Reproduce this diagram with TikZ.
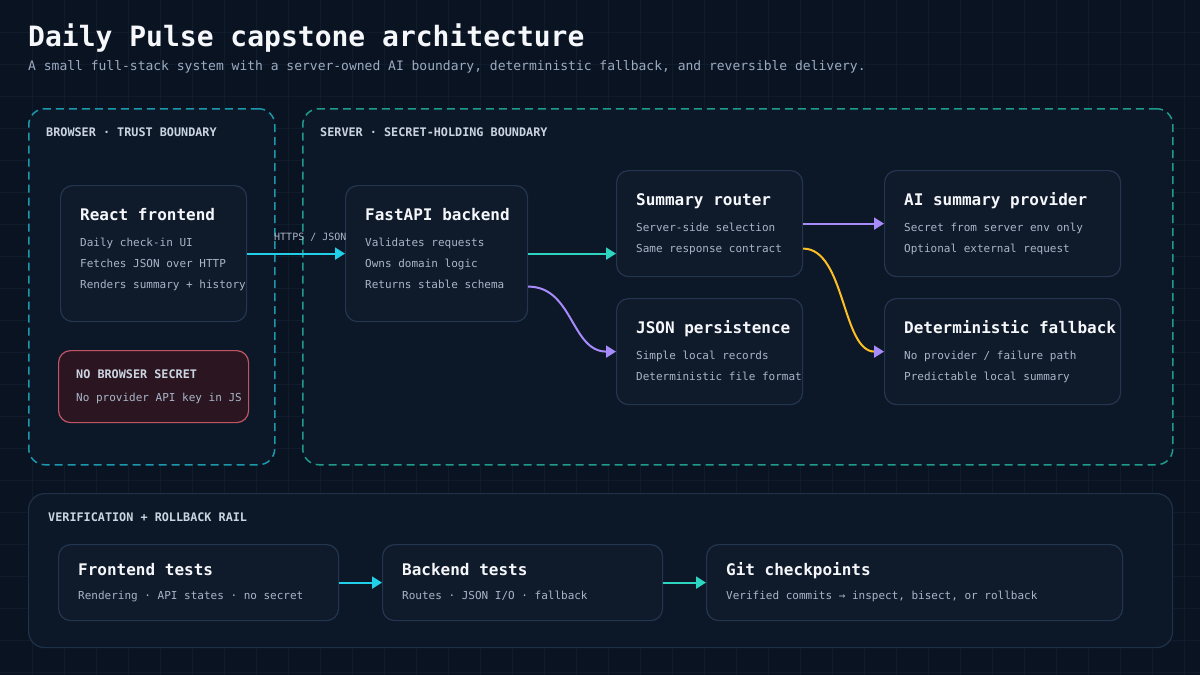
\documentclass[tikz,border=0pt]{standalone}
\usepackage{fontspec}
\setmainfont{DejaVu Sans Mono}
\usetikzlibrary{arrows.meta}
\definecolor{bgc}{HTML}{0A1321}
\definecolor{gridc}{HTML}{101B2B}
\definecolor{zonefill}{HTML}{0C1828}
\definecolor{cardfill}{HTML}{0F1A2B}
\definecolor{cardline}{HTML}{24364F}
\definecolor{railline}{HTML}{1F3149}
\definecolor{browserdash}{HTML}{1C98AC}
\definecolor{serverdash}{HTML}{1F9A8C}
\definecolor{warnfill}{HTML}{2A1520}
\definecolor{warnline}{HTML}{C05566}
\definecolor{titlec}{HTML}{F5F7FA}
\definecolor{bodyc}{HTML}{A9B6C8}
\definecolor{capc}{HTML}{CBD5E1}
\definecolor{subc}{HTML}{9AABC2}
\definecolor{cyanc}{HTML}{22CFE8}
\definecolor{tealc}{HTML}{2DD4BF}
\definecolor{purplec}{HTML}{A78BFA}
\definecolor{amberc}{HTML}{FBBF24}
\begin{document}
\begin{tikzpicture}[x=1pt,y=-1pt,
  card/.style={draw=cardline, fill=cardfill, line width=1.2pt, rounded corners=12pt, inner sep=0pt, anchor=north west},
  zone/.style={fill=zonefill, dash pattern=on 8pt off 5pt, line width=1.5pt, rounded corners=16pt, inner sep=0pt, anchor=north west},
  ttl/.style={anchor=base west, inner sep=0pt, text=titlec, font=\fontsize{16}{19}\selectfont\bfseries},
  body/.style={anchor=base west, inner sep=0pt, text=bodyc, font=\fontsize{11}{13}\selectfont},
  capt/.style={anchor=base west, inner sep=0pt, text=capc, font=\fontsize{11.8}{14}\selectfont\bfseries},
  link/.style={line width=2pt, -{Triangle[length=10pt,width=12pt]}},
]
\fill[bgc] (0,0) rectangle (1200,675);
\useasboundingbox (0,0) rectangle (1200,675);
\foreach \gx in {32,64,...,1184} \draw[gridc, line width=0.8pt] (\gx,0) -- (\gx,675);
\foreach \gy in {32,64,...,672} \draw[gridc, line width=0.8pt] (0,\gy) -- (1200,\gy);

% header
\node[anchor=base west, inner sep=0pt, text=titlec, font=\fontsize{28}{32}\selectfont\bfseries] (title) at (28,46) {Daily Pulse capstone architecture};
\node[anchor=base west, inner sep=0pt, text=subc, font=\fontsize{13}{15}\selectfont] (subtitle) at (28,70) {A small full-stack system with a server-owned AI boundary, deterministic fallback, and reversible delivery.};

% boundaries
\node[zone, draw=browserdash, minimum width=246pt, minimum height=356pt] (browser) at (28,108) {};
\node[capt] (browserlbl) at (46,136) {BROWSER · TRUST BOUNDARY};
\node[zone, draw=serverdash, minimum width=870pt, minimum height=356pt] (server) at (302,108) {};
\node[capt] (serverlbl) at (320,136) {SERVER · SECRET-HOLDING BOUNDARY};

% React frontend
\node[card, minimum width=186pt, minimum height=136pt] (react) at (60,185) {};
\node[ttl] (react-t) at (80,220) {React frontend};
\node[body] (react-1) at (80,246) {Daily check-in UI};
\node[body] (react-2) at (80,267) {Fetches JSON over HTTP};
\node[body] (react-3) at (80,288) {Renders summary + history};

% No browser secret
\node[card, draw=warnline, fill=warnfill, minimum width=190pt, minimum height=72pt] (nosecret) at (58,350) {};
\node[capt] (nosecret-t) at (76,378) {NO BROWSER SECRET};
\node[body] (nosecret-1) at (76,401) {No provider API key in JS};

% FastAPI backend
\node[card, minimum width=182pt, minimum height=136pt] (fastapi) at (345,185) {};
\node[ttl] (fastapi-t) at (365,220) {FastAPI backend};
\node[body] (fastapi-1) at (365,246) {Validates requests};
\node[body] (fastapi-2) at (365,267) {Owns domain logic};
\node[body] (fastapi-3) at (365,288) {Returns stable schema};

% Summary router
\node[card, minimum width=186pt, minimum height=106pt] (router) at (616,170) {};
\node[ttl] (router-t) at (636,205) {Summary router};
\node[body] (router-1) at (636,231) {Server-side selection};
\node[body] (router-2) at (636,252) {Same response contract};

% JSON persistence
\node[card, minimum width=186pt, minimum height=106pt] (json) at (616,298) {};
\node[ttl] (json-t) at (636,333) {JSON persistence};
\node[body] (json-1) at (636,359) {Simple local records};
\node[body] (json-2) at (636,380) {Deterministic file format};

% AI summary provider
\node[card, minimum width=236pt, minimum height=106pt] (ai) at (884,170) {};
\node[ttl] (ai-t) at (904,205) {AI summary provider};
\node[body] (ai-1) at (904,231) {Secret from server env only};
\node[body] (ai-2) at (904,252) {Optional external request};

% Deterministic fallback
\node[card, minimum width=236pt, minimum height=106pt] (fallback) at (884,298) {};
\node[ttl] (fallback-t) at (904,333) {Deterministic fallback};
\node[body] (fallback-1) at (904,359) {No provider / failure path};
\node[body] (fallback-2) at (904,380) {Predictable local summary};

% connectors (server)
\draw[link, cyanc] (react.east) -- (fastapi.west);
\node[anchor=base west, inner sep=0pt, text=bodyc, font=\fontsize{10}{12}\selectfont] (httpslbl) at (274,240) {HTTPS / JSON};
\draw[link, tealc] (fastapi.east) -- (fastapi.east -| router.west);
\draw[link, purplec] ([yshift=-33pt]fastapi.east) .. controls +(45,0) and +(-45,0) .. (json.west);
\draw[link, purplec] (router.east) -- (ai.west);
\draw[line width=2pt, amberc, -{Triangle[length=10pt,width=12pt,color=purplec]}] ([yshift=-25pt]router.east) .. controls +(42,0) and +(-42,0) .. (fallback.west);

% rail
\node[draw=railline, fill=zonefill, line width=1.2pt, rounded corners=16pt, inner sep=0pt, anchor=north west, minimum width=1144pt, minimum height=154pt] (rail) at (28,493) {};
\node[capt] (raillbl) at (48,521) {VERIFICATION + ROLLBACK RAIL};

\node[card, minimum width=280pt, minimum height=76pt] (fetests) at (58,544) {};
\node[ttl] (fetests-t) at (78,575) {Frontend tests};
\node[body] (fetests-1) at (78,599) {Rendering · API states · no secret};

\node[card, minimum width=280pt, minimum height=76pt] (betests) at (382,544) {};
\node[ttl] (betests-t) at (402,575) {Backend tests};
\node[body] (betests-1) at (402,599) {Routes · JSON I/O · fallback};

\node[card, minimum width=416pt, minimum height=76pt] (git) at (706,544) {};
\node[ttl] (git-t) at (726,575) {Git checkpoints};
\node[body] (git-1) at (726,599) {Verified commits → inspect, bisect, or rollback};

\draw[link, cyanc] (fetests.east) -- (betests.west);
\draw[link, tealc] (betests.east) -- (git.west);
\end{tikzpicture}
\end{document}
